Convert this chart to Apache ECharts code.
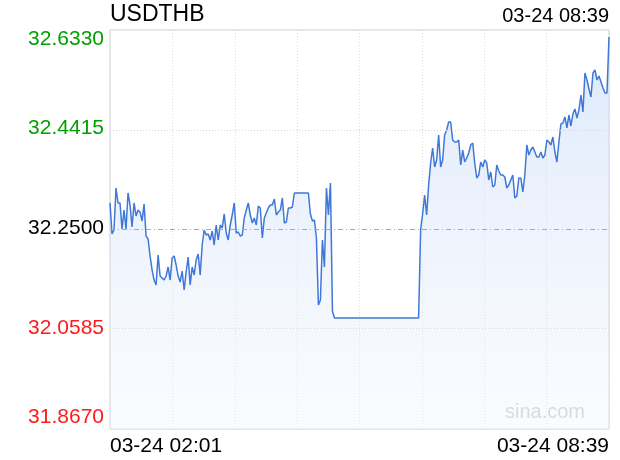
<!DOCTYPE html>
<html>
<head>
<meta charset="utf-8">
<script src="https://cdn.jsdelivr.net/npm/echarts@6/dist/echarts.min.js"></script>
<style>html,body{margin:0;padding:0;background:#fff;}#c{width:620px;height:460px;}</style>
</head>
<body>
<div id="c"></div>
<script>
var titleText = 'USDTHB';
var lastTime = '03-24 08:39';
var xTickLabels = ['03-24 02:01', '03-24 08:39'];
var yTicks = [31.867, 32.0585, 32.25, 32.4415, 32.633];
var yTickLabels = ['31.8670', '32.0585', '32.2500', '32.4415', '32.6330'];
var prevClose = 32.25;
var values = [
32.3009,32.2414,32.2490,32.3297,32.3009,32.3009,32.2510,32.2874,32.2510,32.3201,
32.2970,32.2548,32.3009,32.2759,32.2874,32.2836,32.2663,32.2990,32.2375,32.2318,
32.1991,32.1722,32.1530,32.1434,32.2010,32.1607,32.1569,32.1530,32.1607,32.1780,
32.1530,32.1953,32.1991,32.1818,32.1607,32.1492,32.1703,32.1338,32.1684,32.1972,
32.1434,32.1780,32.1626,32.1914,32.2030,32.1626,32.2202,32.2490,32.2394,32.2414,
32.2298,32.2471,32.2202,32.2586,32.2298,32.2586,32.2529,32.2798,32.2433,32.2298,
32.2586,32.2778,32.3009,32.2433,32.2452,32.2375,32.2394,32.2721,32.2874,32.3009,
32.2778,32.2625,32.2721,32.2586,32.2951,32.2913,32.2337,32.2721,32.2817,32.2913,
32.2970,32.2970,32.3086,32.2778,32.2836,32.2874,32.3105,32.2625,32.2644,32.2913,
32.2913,32.2932,32.3201,32.3201,32.3201,32.3201,32.3201,32.3201,32.3201,32.3201,
32.2798,32.2663,32.2682,32.2337,32.1050,32.1146,32.2298,32.1780,32.3297,32.2778,
32.3393,32.0935,32.0801,32.0801,32.0801,32.0801,32.0801,32.0801,32.0801,32.0801,
32.0801,32.0801,32.0801,32.0801,32.0801,32.0801,32.0801,32.0801,32.0801,32.0801,
32.0801,32.0801,32.0801,32.0801,32.0801,32.0801,32.0801,32.0801,32.0801,32.0801,
32.0801,32.0801,32.0801,32.0801,32.0801,32.0801,32.0801,32.0801,32.0801,32.0801,
32.0801,32.0801,32.0801,32.0801,32.0801,32.2490,32.2798,32.3162,32.2778,32.3354,
32.3777,32.4065,32.3700,32.3834,32.4314,32.3700,32.3834,32.4314,32.4410,32.4564,
32.4564,32.4218,32.4180,32.4180,32.4218,32.3738,32.4026,32.3796,32.3873,32.3969,
32.4122,32.4161,32.3777,32.3489,32.3546,32.3796,32.3700,32.3834,32.3777,32.3450,
32.3604,32.3316,32.3354,32.3738,32.3623,32.3546,32.3546,32.3508,32.3297,32.3354,
32.3450,32.3546,32.3105,32.3143,32.3489,32.3489,32.3220,32.3546,32.4122,32.3930,
32.4026,32.4084,32.3988,32.3892,32.3892,32.3988,32.3873,32.3930,32.4218,32.4180,
32.4122,32.4276,32.3988,32.3796,32.4180,32.4526,32.4545,32.4660,32.4449,32.4698,
32.4487,32.4718,32.4814,32.4641,32.4794,32.5082,32.4756,32.5505,32.5370,32.5198,
32.5044,32.5505,32.5562,32.5370,32.5447,32.5332,32.5217,32.5121,32.5121,32.6196
];

var FONT = '"Liberation Sans", Arial, Helvetica, sans-serif';
var lastIdx = values.length - 1;
var chart = echarts.init(document.getElementById('c'), null, {renderer: 'canvas'});

function yLabel(v) {
  var k = 0, best = Infinity;
  for (var i = 0; i < yTicks.length; i++) {
    var d = Math.abs(yTicks[i] - v);
    if (d < best) { best = d; k = i; }
  }
  var s = yTickLabels[k];
  var style;
  if (k === yTicks.length - 1) style = 'gt';
  else if (k === 0) style = 'rb';
  else if (yTicks[k] > prevClose + 1e-9) style = 'g';
  else if (yTicks[k] < prevClose - 1e-9) style = 'r';
  else style = 'k';
  return '{' + style + '|' + s + '}';
}

var labelBase = {fontSize: 21, fontFamily: FONT};
chart.setOption({
  animation: false,
  backgroundColor: '#fff',
  title: [
    {text: titleText, left: 110, top: 3, padding: 0,
     textStyle: {fontSize: 23, fontWeight: 'normal', color: '#000', fontFamily: FONT}},
    {text: lastTime, right: 11, top: 6, padding: 0,
     textStyle: {fontSize: 20, fontWeight: 'normal', color: '#000', fontFamily: FONT}}
  ],
  grid: {left: 110, right: 11, top: 30, bottom: 31, show: true, borderColor: '#cfcfcf', borderWidth: 1, backgroundColor: 'transparent'},
  xAxis: {
    type: 'value', min: 0, max: lastIdx, interval: lastIdx / 8,
    axisLine: {show: false}, axisTick: {show: false},
    splitLine: {show: true, lineStyle: {color: '#dcdcdc', type: [1, 2], width: 1}},
    axisLabel: {
      show: true, margin: 7, fontSize: 21, color: '#000', fontFamily: FONT,
      alignMinLabel: 'left', alignMaxLabel: 'right',
      showMinLabel: true, showMaxLabel: true,
      formatter: function (v) {
        if (Math.abs(v) < 1e-6) return xTickLabels[0];
        if (Math.abs(v - lastIdx) < 1e-6) return xTickLabels[1];
        return '';
      }
    }
  },
  yAxis: {
    type: 'value', min: yTicks[0], max: yTicks[yTicks.length - 1],
    axisLine: {show: false}, axisTick: {show: false},
    splitLine: {show: false},
    axisLabel: {
      show: true, margin: 6, customValues: yTicks,
      formatter: yLabel,
      rich: {
        gt: Object.assign({color: '#00a000', padding: [18, 0, 0, 0]}, labelBase),
        g: Object.assign({color: '#00a000', padding: [0, 0, 3, 0]}, labelBase),
        k: Object.assign({color: '#000', padding: [0, 0, 3, 0]}, labelBase),
        r: Object.assign({color: '#ff1a1a', padding: [0, 0, 3, 0]}, labelBase),
        rb: Object.assign({color: '#ff1a1a', padding: [0, 0, 24, 0]}, labelBase)
      }
    }
  },
  graphic: [
    {type: 'text', left: 505, top: 402, silent: true,
     style: {text: 'sina.com', fontSize: 20, fill: '#cccccc', fontFamily: FONT}}
  ],
  series: [{
    type: 'line',
    data: values.map(function (v, i) { return [i, v]; }),
    showSymbol: false,
    smooth: false,
    lineStyle: {color: '#3f78d8', width: 1.5},
    areaStyle: {
      origin: 'start',
      color: new echarts.graphic.LinearGradient(0, 0, 0, 1, [
        {offset: 0, color: 'rgba(196,216,247,0.8)'},
        {offset: 1, color: 'rgba(240,245,254,0.5)'}
      ])
    },
    markLine: {
      silent: true, symbol: 'none', label: {show: false}, animation: false,
      data: [
        {yAxis: yTicks[1], lineStyle: {color: '#d8d8d8', type: [1, 2], width: 1}},
        {yAxis: yTicks[3], lineStyle: {color: '#d8d8d8', type: [1, 2], width: 1}},
        {yAxis: yTicks[2], lineStyle: {color: '#aaaaaa', type: [5, 3, 1, 3], width: 1}}
      ]
    }
  }]
});
</script>
</body>
</html>
